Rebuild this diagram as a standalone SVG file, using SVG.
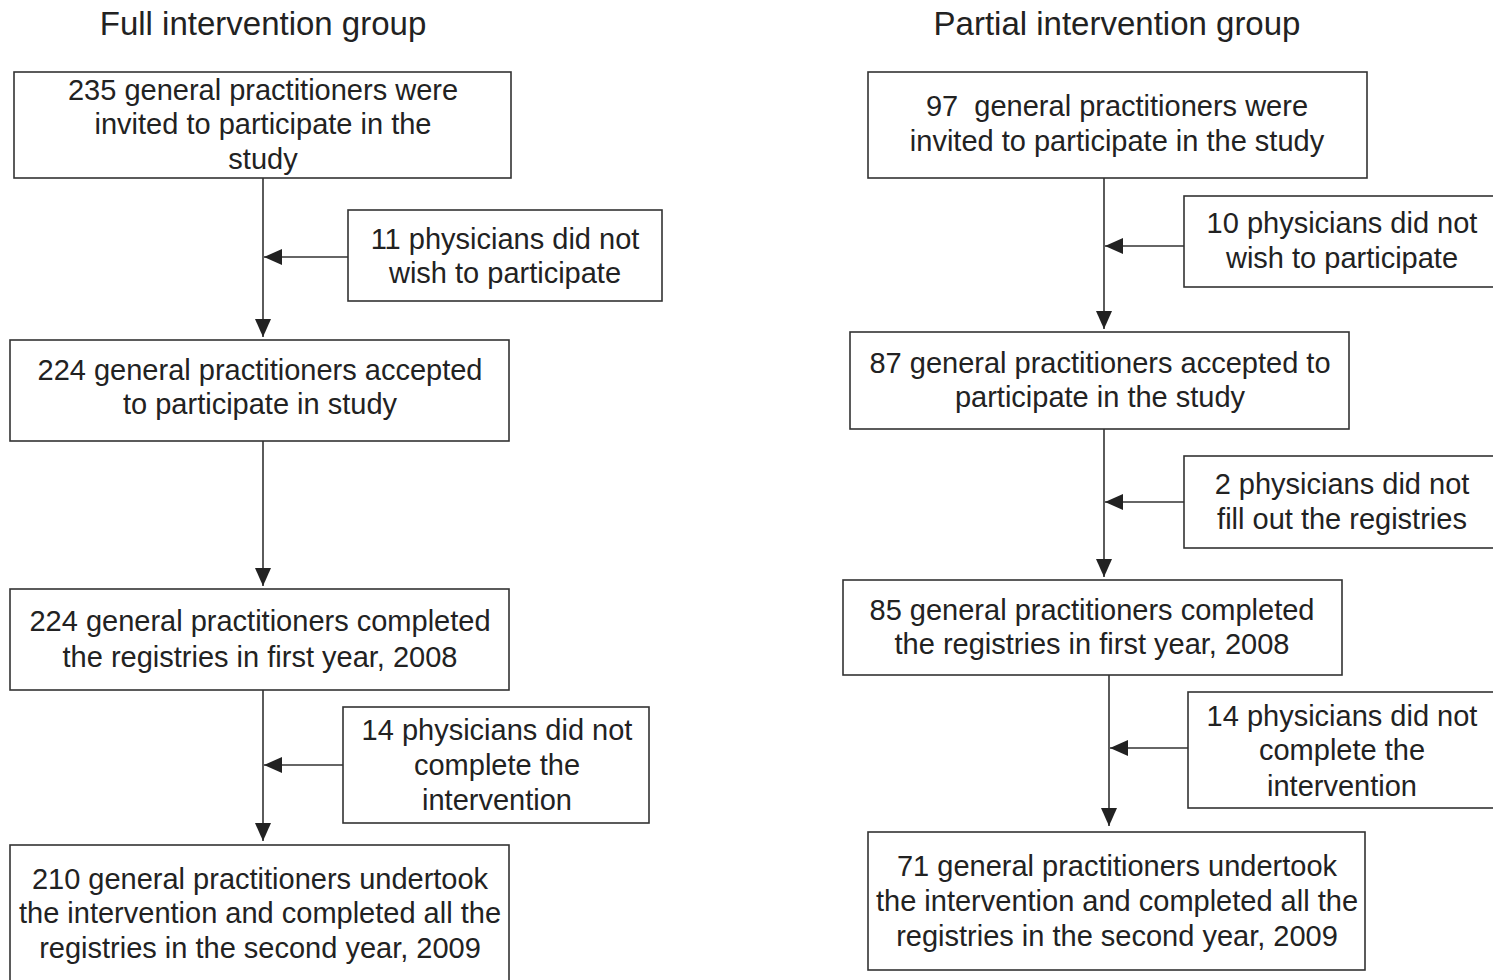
<svg xmlns="http://www.w3.org/2000/svg" width="1493" height="980" viewBox="0 0 1493 980">
<style>
.box{fill:#fff;stroke:#333;stroke-width:1.6}
.t{font-family:"Liberation Sans",Arial,sans-serif;font-size:29px;fill:#222;text-anchor:middle}
.title{font-family:"Liberation Sans",Arial,sans-serif;font-size:33px;fill:#222;text-anchor:middle}
.c{stroke:#333;stroke-width:1.6;fill:none}
</style>
<defs>
<marker id="ah" markerUnits="userSpaceOnUse" markerWidth="18" markerHeight="16" refX="18" refY="8" orient="auto">
<path d="M0,0 L18,8 L0,16 z" fill="#222"/>
</marker>
</defs>
<rect width="1493" height="980" fill="#fff"/>
<text class="title" x="263" y="35">Full intervention group</text>
<text class="title" x="1117" y="35">Partial intervention group</text>

<g id="connectors">
<line class="c" x1="263" y1="178" x2="263" y2="337" marker-end="url(#ah)"/>
<line class="c" x1="348" y1="257" x2="264" y2="257" marker-end="url(#ah)"/>
<line class="c" x1="263" y1="441" x2="263" y2="586" marker-end="url(#ah)"/>
<line class="c" x1="263" y1="690" x2="263" y2="841" marker-end="url(#ah)"/>
<line class="c" x1="343" y1="765" x2="264" y2="765" marker-end="url(#ah)"/>
<line class="c" x1="1104" y1="178" x2="1104" y2="329" marker-end="url(#ah)"/>
<line class="c" x1="1184" y1="246" x2="1105" y2="246" marker-end="url(#ah)"/>
<line class="c" x1="1104" y1="428" x2="1104" y2="577" marker-end="url(#ah)"/>
<line class="c" x1="1184" y1="502" x2="1105" y2="502" marker-end="url(#ah)"/>
<line class="c" x1="1109" y1="675" x2="1109" y2="826" marker-end="url(#ah)"/>
<line class="c" x1="1190" y1="748" x2="1110" y2="748" marker-end="url(#ah)"/>
</g>

<g id="a1"><rect class="box" x="14" y="72" width="497" height="106"/>
<text class="t" x="263" y="100">235 general practitioners were</text>
<text class="t" x="263" y="134">invited to participate in the</text>
<text class="t" x="263" y="169">study</text></g>

<g id="a1x"><rect class="box" x="348" y="210" width="314" height="91"/>
<text class="t" x="505" y="249">11 physicians did not</text>
<text class="t" x="505" y="283">wish to participate</text></g>

<g id="a2"><rect class="box" x="10" y="340" width="499" height="101"/>
<text class="t" x="260" y="380">224 general practitioners accepted</text>
<text class="t" x="260" y="414">to participate in study</text></g>

<g id="a3"><rect class="box" x="10" y="589" width="499" height="101"/>
<text class="t" x="260" y="631">224 general practitioners completed</text>
<text class="t" x="260" y="667">the registries in first year, 2008</text></g>

<g id="a3x"><rect class="box" x="343" y="707" width="306" height="116"/>
<text class="t" x="497" y="740">14 physicians did not</text>
<text class="t" x="497" y="775">complete the</text>
<text class="t" x="497" y="810">intervention</text></g>

<g id="a4"><rect class="box" x="10" y="845" width="499" height="145"/>
<text class="t" x="260" y="889">210 general practitioners undertook</text>
<text class="t" x="260" y="923">the intervention and completed all the</text>
<text class="t" x="260" y="958">registries in the second year, 2009</text></g>

<g id="b1"><rect class="box" x="868" y="72" width="499" height="106"/>
<text class="t" x="1117" y="116" xml:space="preserve">97  general practitioners were</text>
<text class="t" x="1117" y="151">invited to participate in the study</text></g>

<g id="b1x"><rect class="box" x="1184" y="196" width="320" height="91"/>
<text class="t" x="1342" y="233">10 physicians did not</text>
<text class="t" x="1342" y="268">wish to participate</text></g>

<g id="b2"><rect class="box" x="850" y="332" width="499" height="97"/>
<text class="t" x="1100" y="373">87 general practitioners accepted to</text>
<text class="t" x="1100" y="407">participate in the study</text></g>

<g id="b2x"><rect class="box" x="1184" y="456" width="320" height="92"/>
<text class="t" x="1342" y="494">2 physicians did not</text>
<text class="t" x="1342" y="529">fill out the registries</text></g>

<g id="b3"><rect class="box" x="843" y="580" width="499" height="95"/>
<text class="t" x="1092" y="620">85 general practitioners completed</text>
<text class="t" x="1092" y="654">the registries in first year, 2008</text></g>

<g id="b3x"><rect class="box" x="1188" y="692" width="316" height="116"/>
<text class="t" x="1342" y="726">14 physicians did not</text>
<text class="t" x="1342" y="760">complete the</text>
<text class="t" x="1342" y="796">intervention</text></g>

<g id="b4"><rect class="box" x="868" y="832" width="497" height="138"/>
<text class="t" x="1117" y="876">71 general practitioners undertook</text>
<text class="t" x="1117" y="911">the intervention and completed all the</text>
<text class="t" x="1117" y="946">registries in the second year, 2009</text></g>
</svg>
